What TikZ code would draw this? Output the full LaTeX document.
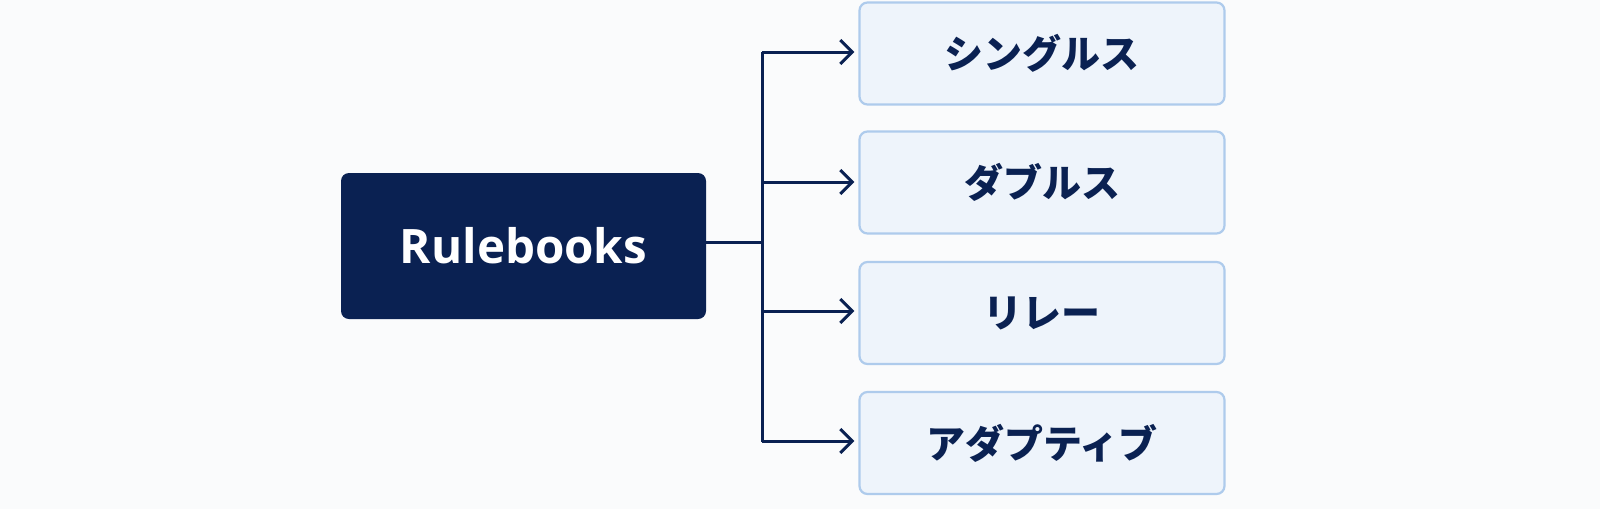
\documentclass[tikz,border=0pt]{standalone}
\usepackage{fontspec}
\setmainfont{Open Sans}
\newfontfamily\cjk{Noto Sans CJK JP}
\usetikzlibrary{arrows.meta}
\definecolor{navy}{HTML}{0A2152}
\definecolor{lightfill}{HTML}{EEF4FB}
\definecolor{lightborder}{HTML}{AECBEC}
\definecolor{bg}{HTML}{FAFBFC}
\tikzset{
  x=1pt, y=-1pt,
  rootbox/.style={draw=none, fill=navy, rounded corners=8pt, minimum width=365pt, minimum height=146pt, text=white, font=\bfseries\fontsize{47.5}{47.5}\selectfont},
  leafbox/.style={draw=lightborder, line width=2.2pt, fill=lightfill, rounded corners=8pt, minimum width=365pt, minimum height=102pt, text=navy, font=\cjk\bfseries\fontsize{39}{39}\selectfont},
  conn/.style={draw=navy, line width=3pt},
  arr/.style={conn, -{Straight Barb[length=12pt, width=24pt, line width=3pt]}}
}
\begin{document}
\begin{tikzpicture}
\fill[bg] (0,0) rectangle (1600,509);
\useasboundingbox (0,0) rectangle (1600,509);
\node[rootbox] (root) at (523.5,246) {Rulebooks};
\node[leafbox] (l1) at (1042,53.5) {シングルス};
\node[leafbox] (l2) at (1042,182.5) {ダブルス};
\node[leafbox] (l3) at (1042,313) {リレー};
\node[leafbox] (l4) at (1042,443) {アダプティブ};
\coordinate (j) at (762,242);
\draw[conn] (root.east |- j) -- (j);
\draw[conn] (762,52) -- (762,442);
\draw[arr] (762,52) -- ([xshift=-4pt]l1.west |- 0,52);
\draw[arr] (762,182) -- ([xshift=-4pt]l2.west |- 0,182);
\draw[arr] (762,311) -- ([xshift=-4pt]l3.west |- 0,311);
\draw[arr] (762,441) -- ([xshift=-4pt]l4.west |- 0,441);
\end{tikzpicture}
\end{document}
